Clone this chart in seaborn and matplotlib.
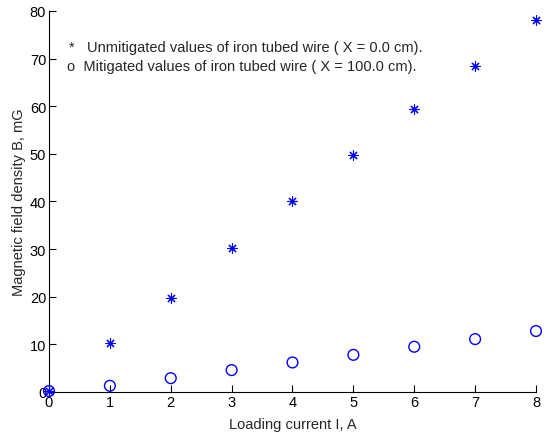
import matplotlib
matplotlib.use("Agg")
import matplotlib.pyplot as plt
import numpy as np
import pandas as pd
import seaborn as sns

# loading current (A)
current = [0, 1, 2, 3, 4, 5, 6, 7, 8]
# magnetic field density (mG)
unmitigated = [0.3, 10.2, 19.8, 30.3, 40.0, 49.8, 59.4, 68.5, 78.1]
mitigated = [0.2, 1.3, 2.9, 4.6, 6.2, 7.8, 9.5, 11.1, 12.8]

x_ticks = list(range(0, 9))
y_ticks = list(range(0, 81, 10))

label_unmit = "*   Unmitigated values of iron tubed wire ( X = 0.0 cm)."
label_mit = "o  Mitigated values of iron tubed wire ( X = 100.0 cm)."

sns.set_style("ticks")
plt.rcParams["font.family"] = ["Liberation Sans", "DejaVu Sans"]
FS = 10.5

df = pd.DataFrame({"current": current, "unmit": unmitigated, "mit": mitigated})

fig = plt.figure(figsize=(5.48, 4.39), dpi=100)
ax = fig.add_axes([0.0894, 0.1048, 0.8887, 0.8679])

sns.scatterplot(data=df, x="current", y="unmit", ax=ax, marker=(8, 2, 0),
                s=45, color="blue", edgecolor="blue", linewidth=0.8,
                zorder=3, clip_on=False)
sns.scatterplot(data=df, x="current", y="mit", ax=ax, marker="o",
                s=60, facecolor="none", edgecolor="blue", linewidth=1.0,
                zorder=3, clip_on=False)

ax.set_xlim(0, 8)
ax.set_ylim(0, 80)
ax.set_xticks(x_ticks)
ax.set_yticks(y_ticks)
ax.tick_params(direction="in", length=5, width=0.8, colors="black", labelsize=FS, pad=2)
for side in ("top", "right"):
    ax.spines[side].set_visible(False)
for side in ("left", "bottom"):
    ax.spines[side].set_color("black")
    ax.spines[side].set_linewidth(0.8)

ax.set_xlabel("Loading current I, A", fontsize=FS, labelpad=6)
ax.set_ylabel("Magnetic field density B, mG", fontsize=FS, labelpad=3)

ax.text(0.042, 0.906, label_unmit, transform=ax.transAxes, fontsize=FS, va="center")
ax.text(0.037, 0.856, label_mit, transform=ax.transAxes, fontsize=FS, va="center")

fig.savefig("out.png", dpi=100)
